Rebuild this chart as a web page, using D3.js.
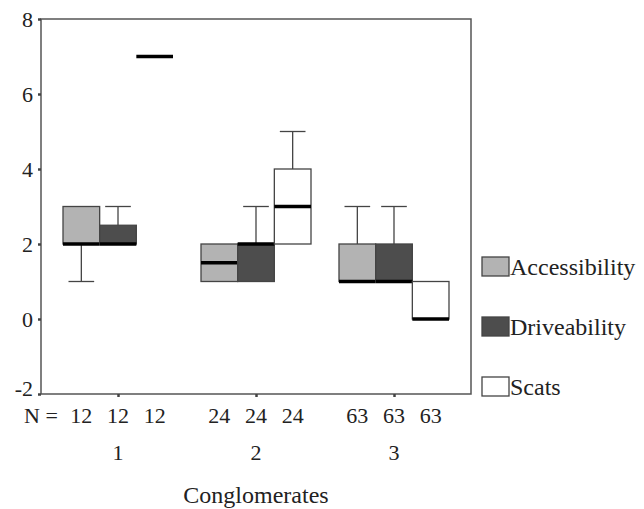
<!DOCTYPE html>
<html>
<head>
<meta charset="UTF-8">
<title>Conglomerates boxplot</title>
<script src="https://d3js.org/d3.v7.min.js"></script>
<style>
  body { margin: 0; background: #fff; }
  svg text { font-family: 'Liberation Serif', 'Times New Roman', Times, serif !important; fill: #222; }
  .axis path, .axis line { stroke: #444; }
</style>
</head>
<body>
<svg id="chart" width="644" height="509"></svg>
<script>
// ---- data ----
var groups = ["1", "2", "3"];
var series = ["Accessibility", "Driveability", "Scats"];
var counts = [12, 24, 63];
var yTicks = [-2, 0, 2, 4, 6, 8];

// [min, q1, median, q3, max] per series, per group
var accessibility = [[1, 2, 2, 3, 3], [1, 1, 1.5, 2, 2], [1, 1, 1, 2, 3]];
var driveability  = [[2, 2, 2, 2.5, 3], [1, 1, 2, 2, 3], [1, 1, 1, 2, 3]];
var scats         = [[7, 7, 7, 7, 7], [2, 2, 3, 4, 5], [0, 0, 0, 1, 1]];

var colours = ["#b3b3b3", "#4d4d4d", "#ffffff"];

var boxes = [];
[accessibility, driveability, scats].forEach(function(s, si) {
  s.forEach(function(v, gi) {
    boxes.push({ group: groups[gi], series: series[si], si: si, n: counts[gi],
      min: v[0], q1: v[1], med: v[2], q3: v[3], max: v[4] });
  });
});

var svg = d3.select("#chart");
var m = { left: 41, right: 471, top: 19, bottom: 394 };

//==== scales ====
var x = d3.scalePoint().domain(groups).range([m.left, m.right]).padding(0.558);
var xs = d3.scaleBand().domain(series).range([-55, 55]);
var y = d3.scaleLinear().domain([-2, 8]).range([m.bottom, m.top]);

//==== frame ====
svg.append("rect")
  .attr("x", m.left).attr("y", m.top)
  .attr("width", m.right - m.left).attr("height", m.bottom - m.top)
  .attr("fill", "none").attr("stroke", "#555").attr("stroke-width", 1.5);

//==== axes ====
var yAxis = svg.append("g").attr("class", "axis")
  .attr("transform", "translate(" + m.left + ",0)")
  .call(d3.axisLeft(y).tickValues(yTicks).tickSize(3).tickPadding(5)
    .tickFormat(function(d) { return String(d); }));
yAxis.attr("font-family", null);
yAxis.select(".domain").remove();
yAxis.selectAll("line").attr("stroke-width", 2.5);
yAxis.selectAll("text").style("font-size", "22px").attr("fill", "#222")
  .attr("dy", function(d) { return d === -2 ? "0.05em" : "0.32em"; });

var xAxis = svg.append("g").attr("class", "axis")
  .attr("transform", "translate(0," + m.bottom + ")")
  .call(d3.axisBottom(x).tickSize(3).tickFormat(""));
xAxis.select(".domain").remove();
xAxis.selectAll("line").attr("stroke-width", 2.5);

//==== boxes ====
var bw = xs.bandwidth();
var capW = bw * 0.7;
var g = svg.append("g").selectAll("g").data(boxes).join("g")
  .attr("transform", function(d) { return "translate(" + (x(d.group) + xs(d.series)) + ",0)"; });

// whiskers
g.filter(function(d) { return d.max > d.q3; }).each(function(d) {
  var s = d3.select(this);
  s.append("line").attr("x1", bw / 2).attr("x2", bw / 2)
    .attr("y1", y(d.q3)).attr("y2", y(d.max)).attr("stroke", "#444").attr("stroke-width", 1.3);
  s.append("line").attr("x1", (bw - capW) / 2).attr("x2", (bw + capW) / 2)
    .attr("y1", y(d.max)).attr("y2", y(d.max)).attr("stroke", "#444").attr("stroke-width", 1.3);
});
g.filter(function(d) { return d.min < d.q1; }).each(function(d) {
  var s = d3.select(this);
  s.append("line").attr("x1", bw / 2).attr("x2", bw / 2)
    .attr("y1", y(d.q1)).attr("y2", y(d.min)).attr("stroke", "#444").attr("stroke-width", 1.3);
  s.append("line").attr("x1", (bw - capW) / 2).attr("x2", (bw + capW) / 2)
    .attr("y1", y(d.min)).attr("y2", y(d.min)).attr("stroke", "#444").attr("stroke-width", 1.3);
});

g.filter(function(d) { return d.q3 > d.q1; }).append("rect")
  .attr("x", 0).attr("width", bw)
  .attr("y", function(d) { return y(d.q3); })
  .attr("height", function(d) { return y(d.q1) - y(d.q3); })
  .attr("fill", function(d) { return colours[d.si]; })
  .attr("stroke", "#444").attr("stroke-width", 1.3);

g.append("line")
  .attr("x1", 0).attr("x2", bw)
  .attr("y1", function(d) { return y(d.med); })
  .attr("y2", function(d) { return y(d.med); })
  .attr("stroke", "#000").attr("stroke-width", 3.5);

//==== N labels ====
svg.append("text").attr("x", 24).attr("y", 423).style("font-size", "22px").text("N =");
svg.append("g").selectAll("text").data(boxes).join("text")
  .attr("x", function(d) { return x(d.group) + xs(d.series) + bw / 2; })
  .attr("y", 423).attr("text-anchor", "middle").style("font-size", "22px")
  .text(function(d) { return d.n; });

svg.append("g").selectAll("text").data(groups).join("text")
  .attr("x", function(d) { return x(d); })
  .attr("y", 460).attr("text-anchor", "middle").style("font-size", "22px")
  .text(function(d) { return d; });

svg.append("text").attr("x", x("2")).attr("y", 503).attr("text-anchor", "middle")
  .style("font-size", "24px").text("Conglomerates");

//==== legend ====
var leg = svg.append("g").selectAll("g").data(series).join("g")
  .attr("transform", function(d, i) { return "translate(482," + (257 + i * 60) + ")"; });
leg.append("rect").attr("width", 27).attr("height", 19)
  .attr("fill", function(d, i) { return colours[i]; })
  .attr("stroke", "#444").attr("stroke-width", 1.3);
leg.append("text").attr("x", 28).attr("y", 18).style("font-size", "24px")
  .text(function(d) { return d; });
</script>
</body>
</html>
